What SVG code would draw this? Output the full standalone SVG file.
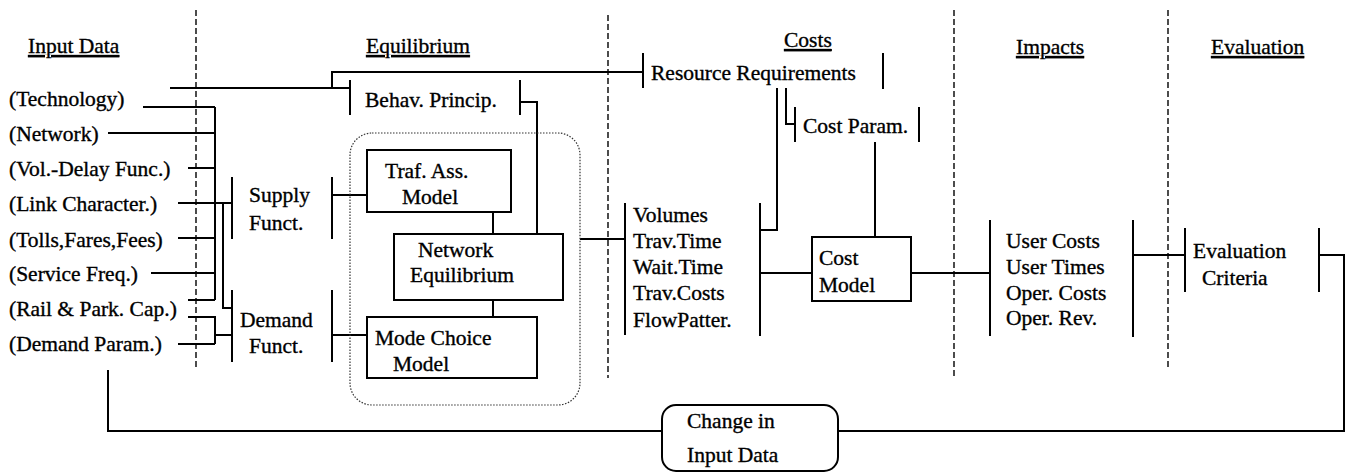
<svg xmlns="http://www.w3.org/2000/svg" width="1347" height="472" viewBox="0 0 1347 472">
<style>
text{font-family:"Liberation Serif","Times New Roman",serif;font-size:21.5px;fill:#000;stroke:#000;stroke-width:0.35}
.h{text-decoration:underline}
.c{fill:none;stroke:#000;stroke-width:2}
.d{fill:none;stroke:#000;stroke-width:1.4;stroke-dasharray:6 3}
.box{fill:#fff;stroke:#000;stroke-width:2}
</style>
<rect width="1347" height="472" fill="#fff"/>
<g id="dividers">
<line class="d" x1="196" y1="10" x2="196" y2="370"/>
<line class="d" x1="608" y1="15" x2="608" y2="378"/>
<line class="d" x1="954" y1="10" x2="954" y2="378"/>
<line class="d" x1="1168" y1="10" x2="1168" y2="370"/>
</g>
<g id="headings">
<text class="h" x="28" y="53">Input Data</text>
<text class="h" x="366" y="53">Equilibrium</text>
<text class="h" x="784" y="47">Costs</text>
<text class="h" x="1016" y="54">Impacts</text>
<text class="h" x="1211" y="54">Evaluation</text>
</g>
<g id="inputs">
<text x="9" y="106">(Technology)</text>
<text x="9" y="141">(Network)</text>
<text x="9" y="176">(Vol.-Delay Func.)</text>
<text x="9" y="211">(Link Character.)</text>
<text x="9" y="247">(Tolls,Fares,Fees)</text>
<text x="9" y="281">(Service Freq.)</text>
<text x="9" y="316">(Rail &amp; Park. Cap.)</text>
<text x="9" y="351">(Demand Param.)</text>
</g>
<g id="connectors" class="c">
<path class="c" d="M143,107H215M108,133H215M188,168H215M178,203H232M178,238H215M151,273H215M188,300H215M215,107V300"/>
<path class="c" d="M223,203V308H232M188,317H215V344M178,344H215M215,335H232"/>
<path class="c" d="M332,195H367M332,335H367"/>
<path class="c" d="M170,88H350M332,88V72H643"/>
<path class="c" d="M520,102H537V234M493,212V234M493,300V317"/>
<path class="c" d="M580,239H625"/>
<path class="c" d="M777,88V230H760M786,88V124H795M875,142V237M760,273H812M911,273H990"/>
<path class="c" d="M1133,255H1185M1319,255H1344V431H838M662,431H108V370"/>
</g>
<g id="supply">
<path class="c" d="M232,177V239M332,177V239"/>
<text x="249" y="202">Supply</text>
<text x="249" y="230">Funct.</text>
</g>
<g id="demand">
<path class="c" d="M232,290V362M332,290V362"/>
<text x="240" y="327">Demand</text>
<text x="249" y="353">Funct.</text>
</g>
<g id="behav">
<path class="c" d="M350,80V115M520,80V115"/>
<text x="365" y="107">Behav. Princip.</text>
</g>
<g id="equilibrium-group">
<rect x="350" y="133" width="230" height="272" rx="22" fill="none" stroke="#333" stroke-width="1.2" stroke-dasharray="1.5 1.5"/>
</g>
<g id="traf">
<rect class="box" x="367" y="150" width="144" height="62"/>
<text x="385" y="178">Traf. Ass.</text>
<text x="402" y="204">Model</text>
</g>
<g id="network">
<rect class="box" x="394" y="234" width="169" height="66"/>
<text x="418" y="257">Network</text>
<text x="410" y="282">Equilibrium</text>
</g>
<g id="mode">
<rect class="box" x="367" y="317" width="170" height="61"/>
<text x="375" y="345">Mode Choice</text>
<text x="393" y="371">Model</text>
</g>
<g id="outputs">
<path class="c" d="M625,203V335"/>
<text x="633" y="222">Volumes</text>
<text x="633" y="248">Trav.Time</text>
<text x="633" y="274">Wait.Time</text>
<text x="633" y="300">Trav.Costs</text>
<text x="633" y="327">FlowPatter.</text>
</g>
<g id="resource">
<path class="c" d="M643,53V88M883,53V89"/>
<text x="651" y="80">Resource Requirements</text>
</g>
<g id="costparam">
<path class="c" d="M795,107V142M919,107V142"/>
<text x="803" y="133">Cost Param.</text>
</g>
<g id="costbus">
<path class="c" d="M760,203V336"/>
</g>
<g id="costmodel">
<rect class="box" x="812" y="237" width="99" height="64"/>
<text x="819" y="265">Cost</text>
<text x="819" y="292">Model</text>
</g>
<g id="impacts">
<path class="c" d="M990,220V336M1133,220V337"/>
<text x="1006" y="248">User Costs</text>
<text x="1006" y="274">User Times</text>
<text x="1006" y="300">Oper. Costs</text>
<text x="1006" y="325">Oper. Rev.</text>
</g>
<g id="evaluation">
<path class="c" d="M1185,228V292M1319,228V292"/>
<text x="1193" y="258">Evaluation</text>
<text x="1202" y="285">Criteria</text>
</g>
<g id="change">
<rect class="box" x="662" y="405" width="176" height="66" rx="14"/>
<text x="687" y="428">Change in</text>
<text x="687" y="462">Input Data</text>
</g>
</svg>
